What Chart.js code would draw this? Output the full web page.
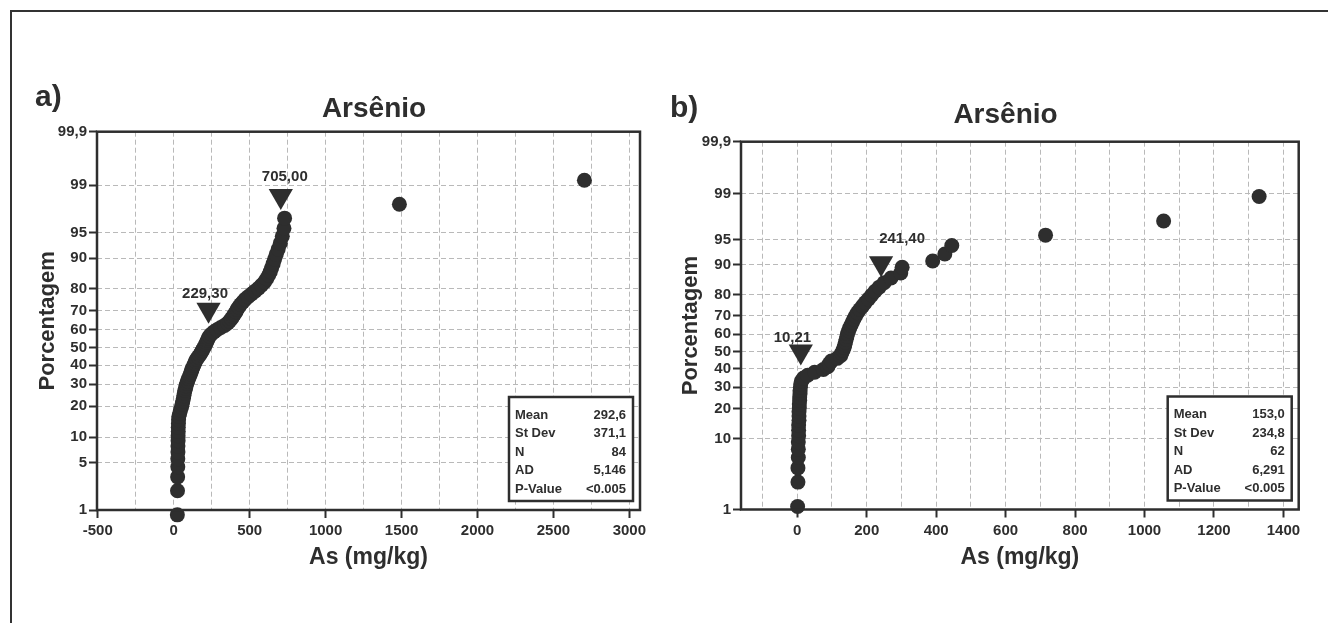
<!DOCTYPE html>
<html>
<head>
<meta charset="utf-8">
<title>Arsênio - gráficos de probabilidade</title>
<script src="https://cdn.jsdelivr.net/npm/chart.js@4.4.1/dist/chart.umd.min.js"></script>
<style>
  html, body { margin: 0; padding: 0; background: #fff; }
  #page { position: relative; width: 1328px; height: 623px; overflow: hidden; background: #fff; }
  #frame { position: absolute; left: 10px; top: 10px; width: 1400px; height: 700px;
           border-left: 2.5px solid #333; border-top: 2.5px solid #333; }
  canvas { position: absolute; top: 0; }
  #chartA { left: 0; }
  #chartB { left: 664px; }
</style>
</head>
<body>
<div id="page">
  <div id="frame"></div>
  <canvas id="chartA" width="664" height="623"></canvas>
  <canvas id="chartB" width="664" height="623"></canvas>
</div>
<script>
// As (mg/kg), sorted samples
const asA = [24, 25, 26, 27, 27, 28, 28, 29, 29, 30, 30, 31, 32, 34,
  40, 45, 52, 56, 60, 64, 67, 70, 74, 78, 82, 86, 92, 98, 104, 110, 115, 120, 126, 132, 138, 144, 151,
  162, 172, 180, 188, 196, 203, 210, 216, 222, 228, 236,
  248, 265, 285, 310, 335, 355, 368, 380, 390, 400, 410, 418, 428, 440, 455, 470,
  490, 512, 535, 558, 578, 598, 612, 625, 636, 645, 655, 664, 675, 688, 702, 715, 726, 730,
  1486, 2704];
const asB = [1, 2, 2, 3, 3, 3, 4, 4, 4, 5, 5, 5, 6, 6, 7, 7, 8, 8, 9, 10, 12,
  18, 30, 50, 75, 88, 92, 98,
  115, 125, 128, 132, 135, 137, 139, 141, 143, 145, 148, 151, 155, 159, 163, 168, 173,
  180, 188, 196, 205, 214, 224, 236, 250, 270, 298, 302,
  390, 425, 445, 715, 1055, 1330];

// axis ticks
const xTicksA = [-500, 0, 500, 1000, 1500, 2000, 2500, 3000];
const xGridA = [-500, -250, 0, 250, 500, 750, 1000, 1250, 1500, 1750, 2000, 2250, 2500, 2750, 3000];
const xTicksB = [0, 200, 400, 600, 800, 1000, 1200, 1400];
const xGridB = [-100, 0, 100, 200, 300, 400, 500, 600, 700, 800, 900, 1000, 1100, 1200, 1300, 1400];
const yTicksA = [1, 5, 10, 20, 30, 40, 50, 60, 70, 80, 90, 95, 99, 99.9];
const yTicksB = [1, 10, 20, 30, 40, 50, 60, 70, 80, 90, 95, 99, 99.9];

// reference markers (value, percent) and stats tables
const markValA = [229.3, 705];
const markPctA = [70.6, 98.5];
const markTextA = ['229,30', '705,00'];
const markValB = [10.21, 241.4];
const markPctB = [50.0, 90.3];
const markTextB = ['10,21', '241,40'];

const statNames = ['Mean', 'St Dev', 'N', 'AD', 'P-Value'];
const statsA = ['292,6', '371,1', '84', '5,146', '<0.005'];
const statsB = ['153,0', '234,8', '62', '6,291', '<0.005'];

const INK = '#2e2e2e';
const GRID = '#b9b9b9';
const FONT = "'Liberation Sans', Arial, Helvetica, sans-serif";
const MARK_R = 14;
Chart.defaults.font.family = FONT;

// inverse normal CDF (Acklam) -> probability axis
function probit(p) {
  const a = [-3.969683028665376e+01, 2.209460984245205e+02, -2.759285104469687e+02, 1.383577518672690e+02, -3.066479806614716e+01, 2.506628277459239e+00];
  const b = [-5.447609879822406e+01, 1.615858368580409e+02, -1.556989798598866e+02, 6.680131188771972e+01, -1.328068155288572e+01];
  const c = [-7.784894002430293e-03, -3.223964580411365e-01, -2.400758277161838e+00, -2.549732468023959e+00, 4.374664141464968e+00, 2.938163982698783e+00];
  const d = [7.784695709041462e-03, 3.224671290700398e-01, 2.445134137142996e+00, 3.754408661907416e+00];
  const lo = 0.02425;
  let q, r;
  if (p < lo) {
    q = Math.sqrt(-2 * Math.log(p));
    return (((((c[0]*q+c[1])*q+c[2])*q+c[3])*q+c[4])*q+c[5]) / ((((d[0]*q+d[1])*q+d[2])*q+d[3])*q+1);
  }
  if (p > 1 - lo) {
    q = Math.sqrt(-2 * Math.log(1 - p));
    return -(((((c[0]*q+c[1])*q+c[2])*q+c[3])*q+c[4])*q+c[5]) / ((((d[0]*q+d[1])*q+d[2])*q+d[3])*q+1);
  }
  q = p - 0.5; r = q * q;
  return (((((a[0]*r+a[1])*r+a[2])*r+a[3])*r+a[4])*r+a[5])*q / (((((b[0]*r+b[1])*r+b[2])*r+b[3])*r+b[4])*r+1);
}

const panelPlugin = {
  id: 'panel',
  afterDraw(chart, args, o) {
    const { ctx, chartArea: a } = chart;
    ctx.save();
    ctx.strokeStyle = INK;
    ctx.lineWidth = 2.5;
    ctx.strokeRect(a.left, a.top, a.right - a.left, a.bottom - a.top);

    // labels over the triangles
    ctx.fillStyle = INK;
    ctx.font = 'bold 15px ' + FONT;
    ctx.textAlign = 'center';
    ctx.textBaseline = 'alphabetic';
    chart.getDatasetMeta(0).data.forEach((el, i) => {
      const off = o.labelOff[i];
      ctx.fillText(o.markText[i], el.x + off[0], el.y - MARK_R / 2 - 6 + off[1]);
    });

    // stats box
    const bw = 124, bh = 104;
    const bx = a.right - 7 - bw, by = a.bottom - 9 - bh;
    ctx.fillStyle = '#fff';
    ctx.fillRect(bx, by, bw, bh);
    ctx.lineWidth = 2.5;
    ctx.strokeRect(bx, by, bw, bh);
    ctx.fillStyle = INK;
    ctx.font = 'bold 13px ' + FONT;
    ctx.textBaseline = 'middle';
    statNames.forEach((name, i) => {
      const y = by + 18 + i * 18.5;
      ctx.textAlign = 'left';
      ctx.fillText(name, bx + 6, y);
      ctx.textAlign = 'right';
      ctx.fillText(o.stats[i], bx + bw - 7, y);
    });

    // panel letter + title
    ctx.textBaseline = 'alphabetic';
    ctx.textAlign = 'left';
    ctx.font = 'bold 30px ' + FONT;
    ctx.fillText(o.letter, o.letterPos[0], o.letterPos[1]);
    ctx.textAlign = 'center';
    ctx.font = 'bold 28px ' + FONT;
    ctx.fillText(o.title, o.titlePos[0], o.titlePos[1]);
    ctx.restore();
  }
};

function probChart(id, c) {
  const n = c.values.length;
  // Minitab median-rank plotting position
  const pts = c.values.map((v, i) => ({ x: v, y: probit((i + 1 - 0.3) / (n + 0.4)) }));
  const marks = c.markVal.map((v, i) => ({ x: v, y: probit(c.markPct[i] / 100) }));
  const tickFont = { family: FONT, size: 15, weight: 'bold' };
  const titleFont = { family: FONT, size: 22, weight: 'bold' };

  return new Chart(document.getElementById(id), {
    type: 'scatter',
    data: {
      datasets: [
        { data: marks, pointStyle: 'triangle', pointRotation: 180, pointRadius: MARK_R,
          pointBackgroundColor: INK, pointBorderWidth: 0, clip: false },
        { data: pts, pointStyle: 'circle', pointRadius: 7.5,
          pointBackgroundColor: INK, pointBorderWidth: 0, clip: false }
      ]
    },
    options: {
      responsive: false,
      animation: false,
      events: [],
      layout: { padding: { top: c.top, right: c.padR, bottom: 0, left: 0 } },
      plugins: {
        legend: { display: false },
        tooltip: { enabled: false },
        panel: {
          letter: c.letter, letterPos: c.letterPos, title: 'Arsênio', titlePos: c.titlePos,
          stats: c.stats, markText: c.markText, labelOff: c.labelOff
        }
      },
      scales: {
        x: {
          type: 'linear',
          min: c.xMin, max: c.xMax,
          afterFit: s => { s.height = c.xAxisH; },
          afterBuildTicks: s => { s.ticks = c.xGrid.map(v => ({ value: v })); },
          ticks: {
            autoSkip: false, maxRotation: 0, padding: 4, color: INK, font: tickFont,
            callback: v => c.xTicks.includes(v) ? String(v) : ''
          },
          grid: {
            color: GRID, lineWidth: 1, tickLength: 8, tickWidth: 2,
            tickColor: ctx => (ctx.tick && c.xTicks.includes(ctx.tick.value)) ? INK : 'rgba(0,0,0,0)'
          },
          border: { display: false, dash: [5, 3] },
          title: { display: true, text: 'As (mg/kg)', color: INK,
                   font: { family: FONT, size: 23, weight: 'bold' }, padding: { top: 0, bottom: 52 } }
        },
        y: {
          type: 'linear',
          min: probit(0.01), max: probit(0.999),
          afterFit: s => { s.width = c.yAxisW; },
          afterBuildTicks: s => { s.ticks = c.yTicks.map(p => ({ value: probit(p / 100) })); },
          ticks: {
            autoSkip: false, padding: 2, color: INK, font: tickFont,
            callback: (v, i) => String(c.yTicks[i]).replace('.', ',')
          },
          grid: { color: GRID, lineWidth: 1, tickLength: 8, tickWidth: 2, tickColor: INK },
          border: { display: false, dash: [5, 3] },
          title: { display: true, text: 'Porcentagem', color: INK, font: titleFont,
                   padding: { top: c.yTitlePad, bottom: 0 } }
        }
      }
    },
    plugins: [panelPlugin]
  });
}

probChart('chartA', {
  values: asA, xMin: -505, xMax: 3070, xTicks: xTicksA, xGrid: xGridA, yTicks: yTicksA,
  markVal: markValA, markPct: markPctA, markText: markTextA, labelOff: [[-3.5, 1.3], [4, -1.5]],
  stats: statsA, letter: 'a)', letterPos: [35, 105.5], titlePos: [374, 116.7],
  top: 131.7, padR: 24, xAxisH: 113, yAxisW: 97, yTitlePad: 34.8
});

probChart('chartB', {
  values: asB, xMin: -162, xMax: 1444, xTicks: xTicksB, xGrid: xGridB, yTicks: yTicksB,
  markVal: markValB, markPct: markPctB, markText: markTextB, labelOff: [[-8.4, 3], [21, -7]],
  stats: statsB, letter: 'b)', letterPos: [6, 117], titlePos: [341.5, 122.7],
  top: 141.7, padR: 29.3, xAxisH: 113.5, yAxisW: 77, yTitlePad: 13.3
});
</script>
</body>
</html>
